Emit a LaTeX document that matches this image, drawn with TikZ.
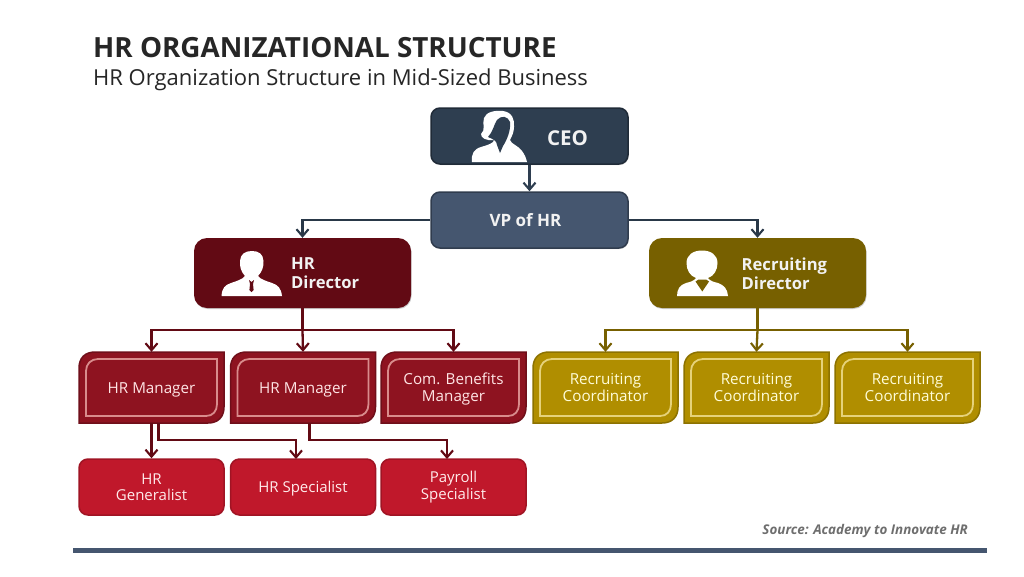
\documentclass[tikz,border=0pt]{standalone}
\usepackage{fontspec}
\setmainfont{Open Sans}
\usetikzlibrary{arrows.meta,shadows}
\definecolor{ceoC}{HTML}{2E3E50}
\definecolor{vpC}{HTML}{45566F}
\definecolor{dirR}{HTML}{620A14}
\definecolor{dirG}{HTML}{776000}
\definecolor{mgrR}{HTML}{8E1320}
\definecolor{mgrRe}{HTML}{6F0F1A}
\definecolor{mgrL}{HTML}{D98C8C}
\definecolor{coG}{HTML}{B08E00}
\definecolor{coGe}{HTML}{8C7200}
\definecolor{coL}{HTML}{E6D27A}
\definecolor{spR}{HTML}{C0182B}
\definecolor{spRe}{HTML}{A01424}
\definecolor{inkT}{HTML}{262626}
\definecolor{srcT}{HTML}{6E6E6E}
\tikzset{
  softshadow/.style={general shadow={shadow xshift=0.6pt,shadow yshift=-1pt,fill=black,opacity=0.2}},
  topbox/.style={rounded corners=9pt,draw=#1!70!black,line width=1.5pt,fill=#1,softshadow,minimum width=197pt,minimum height=56pt,inner sep=0pt},
  dirbox/.style={rounded corners=13pt,fill=#1,softshadow,minimum width=217pt,minimum height=70pt,inner sep=0pt},
  spbox/.style={rounded corners=9pt,draw=spRe,line width=1.5pt,fill=spR,minimum width=145pt,minimum height=56pt,inner sep=0pt,
     text=white!92!red,font=\fontsize{15}{16.5}\selectfont,align=center},
  lbl/.style={text=white!95!black,inner sep=0pt,align=left,font=\fontsize{16.6}{19}\selectfont\bfseries},
  mgrtext/.style={minimum width=145pt,minimum height=71pt,inner sep=0pt,align=center,font=\fontsize{15.2}{16.5}\selectfont},
  conn/.style={line width=2.3pt,-{Straight Barb[length=7pt,width=12pt,line width=2.1pt]}},
  plain/.style={line width=2.3pt},
}
% text block set a little below the centre of its box: #1 is twice the drop
\newcommand{\lowtext}[2]{\raisebox{0pt}[\dimexpr\height+#1\relax][\depth]{\parbox{140pt}{\centering #2}}}
\newcommand{\mgrbox}[9]{% name x y fill edge rule textcolor drop text
  \path[fill=#4,draw=#5,line width=1.5pt]
     (#2+16,#3) -- (#2+145,#3) -- (#2+145,#3+55)
     .. controls (#2+145,#3+65) and (#2+139,#3+71) .. (#2+129,#3+71)
     -- (#2,#3+71) -- (#2,#3+16)
     .. controls (#2,#3+6) and (#2+6,#3) .. (#2+16,#3) -- cycle;
  \draw[#6,line width=1.8pt]
     (#2+19,#3+7) -- (#2+138,#3+7) -- (#2+138,#3+52)
     .. controls (#2+138,#3+59) and (#2+134,#3+64) .. (#2+127,#3+64)
     -- (#2+7,#3+64) -- (#2+7,#3+19)
     .. controls (#2+7,#3+12) and (#2+12,#3+7) .. (#2+19,#3+7) -- cycle;
  \node[mgrtext,text=#7] (#1) at (#2+72.5,#3+35.5) {\lowtext{#8}{#9}};
}
\begin{document}
\begin{tikzpicture}[x=1pt,y=-1pt]
\useasboundingbox[fill=white] (0,0) rectangle (1024,576);

% title
\node[anchor=west,inner sep=0pt,text=inkT,font=\fontsize{27.8}{30}\selectfont\bfseries] (title) at (93,48) {HR ORGANIZATIONAL STRUCTURE};
\node[anchor=west,inner sep=0pt,text=inkT,font=\fontsize{22}{26}\selectfont] (subtitle) at (93,80) {HR Organization Structure in Mid-Sized Business};

% top boxes
\node[topbox=ceoC] (ceo) at (529.5,136) {};
\node[topbox=vpC] (vp) at (529.5,220) {};
\node[dirbox=dirR] (hrd) at (302.5,273) {};
\node[dirbox=dirG] (red) at (757.5,273) {};

% managers and coordinators
\mgrbox{m1}{79}{352}{mgrR}{mgrRe}{mgrL}{white!90!red}{4pt}{HR Manager}
\mgrbox{m2}{230.5}{352}{mgrR}{mgrRe}{mgrL}{white!90!red}{4pt}{HR Manager}
\mgrbox{m3}{381}{352}{mgrR}{mgrRe}{mgrL}{white!90!red}{3pt}{Com. Benefits\\Manager}
\mgrbox{c1}{533}{352}{coG}{coGe}{coL}{white!85!yellow}{0pt}{Recruiting\\Coordinator}
\mgrbox{c2}{684}{352}{coG}{coGe}{coL}{white!85!yellow}{0pt}{Recruiting\\Coordinator}
\mgrbox{c3}{835}{352}{coG}{coGe}{coL}{white!85!yellow}{0pt}{Recruiting\\Coordinator}

% specialists
\node[spbox] (s1) at (151.5,487) {\lowtext{0pt}{HR\\Generalist}};
\node[spbox] (s2) at (303,487) {\lowtext{4pt}{HR Specialist}};
\node[spbox] (s3) at (453.5,487) {\lowtext{0pt}{Payroll\\Specialist}};

% connectors
\draw[conn,draw=ceoC] (ceo.south) -- (vp.north);
\draw[conn,draw=ceoC!90!black] (vp.west) -| (hrd.north);
\draw[conn,draw=ceoC!90!black] (vp.east) -| (red.north);

\coordinate (busR) at (302.5,330);
\draw[plain,draw=dirR] (hrd.south) -- (busR);
\draw[conn,draw=dirR] (busR) -- (m2.north);
\draw[conn,draw=dirR] (busR) -| (m1.north);
\draw[conn,draw=dirR] (busR) -| (m3.north);

\coordinate (busG) at (757.5,330);
\draw[plain,draw=dirG] (red.south) -- (busG);
\draw[conn,draw=dirG] (busG) -- (c2.north);
\draw[conn,draw=dirG] (busG) -| (c1.north);
\draw[conn,draw=dirG] (busG) -| (c3.north);

\draw[conn,draw=dirR] (m1.south) -- (s1.north);
\coordinate (m1b) at (158.5,423);
\coordinate (m2b) at (309.5,423);
\coordinate (s3b) at (447,459);
\coordinate (s2b) at (296,459);
\draw[conn,draw=dirR] (m1b) -- (158.5,440) -| (s2b);
\draw[conn,draw=dirR] (m2b) -- (309.5,440) -| (s3b);

% labels of the top boxes
\node[lbl,font=\fontsize{20.5}{22}\selectfont\bfseries] (ceoL) at (567.5,138.5) {CEO};
\node[lbl,font=\fontsize{17}{20}\selectfont\bfseries] (vpL) at (525.5,220.5) {VP of HR};
\node[lbl,anchor=west] (hrdL) at (291,273.5) {HR\\Director};
\node[lbl,anchor=west] (redL) at (741.5,273.5) {Recruiting\\Director};

% woman icon in the CEO box
\fill[white] (472,162)
  .. controls (471,154) and (474,149) .. (481,147)
  .. controls (488,145) and (494,143) .. (494,140)
  .. controls (486,141) and (481,138) .. (481,134)
  .. controls (486,130) and (482,124) .. (484,118)
  .. controls (486,112) and (495,110) .. (503,111)
  .. controls (512,112) and (515,120) .. (514,127)
  .. controls (514,132) and (512,136) .. (510,140)
  .. controls (511,144) and (519,146) .. (522,151)
  .. controls (525,155) and (526,158) .. (527,162) -- cycle;
\fill[ceoC] (488,137)
  .. controls (493,132) and (494,124) .. (497,120)
  .. controls (501,115) and (508,116) .. (510,122)
  .. controls (511,130) and (507,140) .. (503,146)
  -- (500,153) -- (497,145)
  .. controls (497,141) and (493,139) .. (488,137) -- cycle;

% man icon in the HR Director box
\fill[white] (221.5,296)
  .. controls (222,288) and (225,285) .. (231,283)
  .. controls (237,281) and (243,279) .. (245,276)
  .. controls (241,272) and (239.5,266) .. (240,261)
  .. controls (240.5,254) and (245,251) .. (252,251)
  .. controls (259,251) and (263,254) .. (263.5,261)
  .. controls (264,266) and (262,272) .. (258,276)
  .. controls (260,279) and (266,281) .. (272,283)
  .. controls (278,285) and (281,288) .. (282,296) -- cycle;
\fill[dirR] (249,280) -- (251.5,282) -- (254,280) -- (253,284) -- (253.6,290) -- (251.5,292) -- (249.4,290) -- (250,284) -- cycle;

% woman icon in the Recruiting Director box
\fill[white] (677,296)
  .. controls (677,289) and (680,285) .. (686,283)
  .. controls (690,282) and (694,281) .. (696,278)
  .. controls (690,276) and (686.5,270) .. (686.5,263)
  .. controls (686.5,255) and (693,250.5) .. (702,250.5)
  .. controls (711,250.5) and (717.5,255) .. (717.5,263)
  .. controls (717.5,270) and (714,276) .. (708,278)
  .. controls (710,281) and (714,282) .. (718,283)
  .. controls (724,285) and (727.5,289) .. (728,296) -- cycle;
\fill[dirG] (695.5,281.5) -- (702.3,291.5) -- (709,281.5) -- (706,279.5) -- (698.5,279.5) -- cycle;

% footer
\node[anchor=east,inner sep=0pt,text=srcT,font=\fontsize{13.4}{16}\selectfont\bfseries\itshape] (src) at (968,531) {Source: Academy to Innovate HR};
\fill[vpC] (73,548) rectangle (987,553);
\end{tikzpicture}
\end{document}
